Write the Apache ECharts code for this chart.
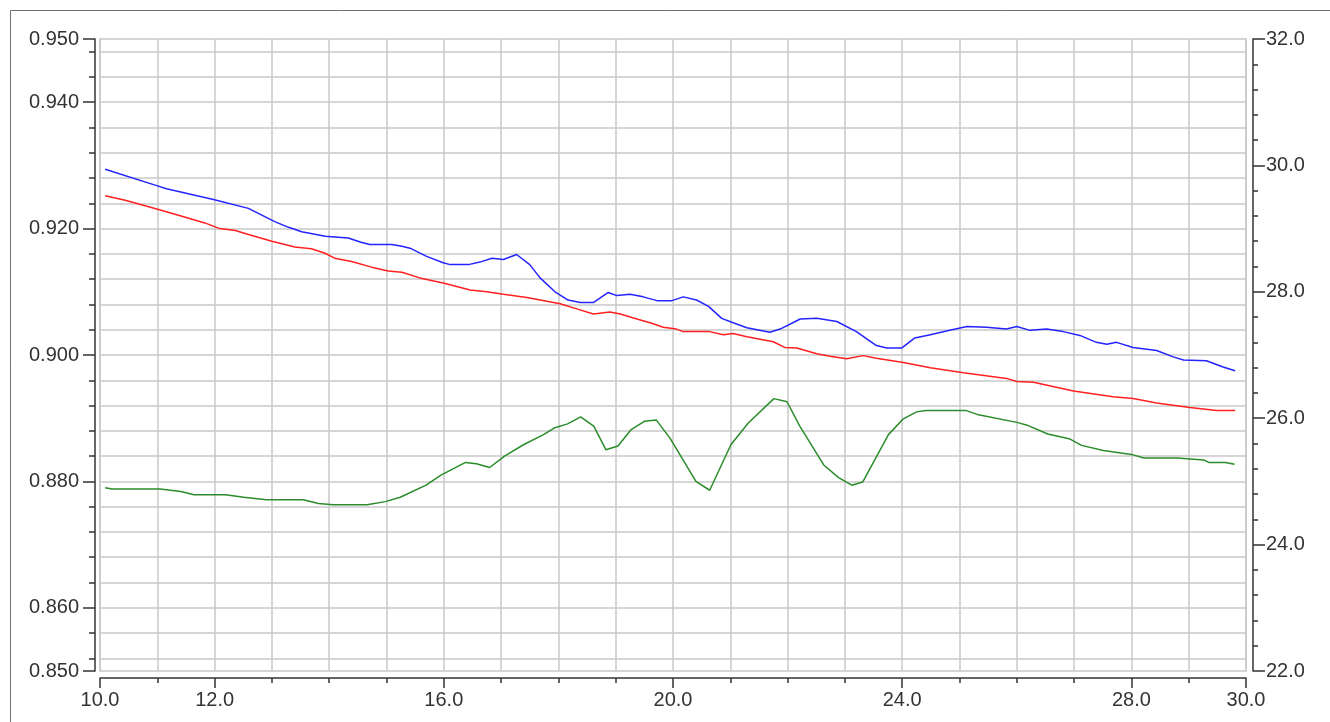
<!DOCTYPE html>
<html>
<head>
<meta charset="utf-8">
<script src="https://cdn.jsdelivr.net/npm/echarts@6/dist/echarts.min.js"></script>
<style>
html,body{margin:0;padding:0;background:#fff;}
#chart{width:1330px;height:722px;}
</style>
</head>
<body>
<div id="chart"></div>
<script>
// ---- data ----
var blueX = [10.09,10.99,11.16,11.98,12.59,13.05,13.29,13.52,13.93,14.33,14.57,14.71,15.09,15.27,15.41,15.70,15.99,16.11,16.43,16.63,16.84,17.04,17.27,17.50,17.68,17.94,18.17,18.38,18.61,18.87,19.02,19.25,19.48,19.72,19.98,20.18,20.41,20.62,20.85,21.05,21.29,21.69,21.87,22.22,22.51,22.86,23.20,23.55,23.73,23.99,24.22,24.49,24.83,25.13,25.47,25.82,26.00,26.23,26.52,26.81,27.10,27.39,27.57,27.74,28.03,28.44,28.73,28.91,29.31,29.60,29.81];
var blueY = [0.9294,0.9268,0.9263,0.9246,0.9232,0.9211,0.9202,0.9195,0.9188,0.9185,0.9178,0.9175,0.9175,0.9172,0.9169,0.9156,0.9146,0.9143,0.9143,0.9147,0.9153,0.9151,0.9159,0.9143,0.9122,0.9100,0.9087,0.9083,0.9083,0.9099,0.9094,0.9096,0.9092,0.9086,0.9086,0.9092,0.9087,0.9077,0.9058,0.9051,0.9043,0.9036,0.9041,0.9057,0.9058,0.9053,0.9037,0.9015,0.9011,0.9011,0.9027,0.9032,0.9039,0.9045,0.9044,0.9041,0.9045,0.9039,0.9041,0.9037,0.9031,0.9020,0.9017,0.9020,0.9012,0.9007,0.8997,0.8992,0.8991,0.8981,0.8975];

var redX = [10.09,10.44,10.99,11.37,11.83,12.09,12.36,12.65,13.00,13.40,13.69,13.93,14.10,14.39,14.74,15.03,15.27,15.58,15.99,16.46,16.75,17.04,17.45,17.80,18.03,18.32,18.61,18.90,19.08,19.37,19.60,19.83,20.06,20.18,20.64,20.88,21.05,21.29,21.75,21.95,22.16,22.51,22.74,23.03,23.32,23.55,24.02,24.49,25.07,25.82,26.00,26.29,26.99,27.68,28.03,28.44,29.02,29.49,29.81];
var redY = [0.9252,0.9245,0.9231,0.9221,0.9209,0.9200,0.9197,0.9189,0.9180,0.9171,0.9168,0.9161,0.9153,0.9148,0.9139,0.9133,0.9131,0.9122,0.9114,0.9103,0.9100,0.9096,0.9091,0.9085,0.9081,0.9073,0.9065,0.9068,0.9065,0.9057,0.9051,0.9044,0.9041,0.9037,0.9037,0.9032,0.9034,0.9029,0.9021,0.9012,0.9011,0.9002,0.8998,0.8994,0.8999,0.8995,0.8988,0.8980,0.8972,0.8963,0.8958,0.8957,0.8943,0.8934,0.8931,0.8924,0.8917,0.8912,0.8912];

var greenX = [10.09,10.21,11.05,11.41,11.64,12.19,12.51,12.90,13.55,13.81,14.07,14.66,14.98,15.24,15.69,15.95,16.38,16.57,16.80,17.06,17.39,17.74,17.94,18.16,18.39,18.62,18.83,19.04,19.27,19.50,19.71,19.95,20.40,20.64,21.01,21.31,21.76,21.99,22.21,22.63,22.89,23.12,23.31,23.76,24.02,24.25,24.41,25.12,25.31,26.02,26.18,26.54,26.93,27.13,27.51,28.03,28.22,28.80,29.26,29.35,29.64,29.80];
var greenY = [24.90,24.88,24.88,24.84,24.79,24.79,24.75,24.71,24.71,24.65,24.63,24.63,24.68,24.75,24.94,25.10,25.30,25.28,25.22,25.40,25.58,25.74,25.85,25.91,26.02,25.87,25.50,25.56,25.82,25.95,25.97,25.68,25.00,24.86,25.58,25.92,26.31,26.26,25.88,25.26,25.06,24.94,24.99,25.74,25.99,26.10,26.12,26.12,26.06,25.93,25.89,25.75,25.67,25.57,25.49,25.42,25.37,25.37,25.34,25.30,25.30,25.27];

// tick labels
var xLabelTicks = [10,12,16,20,24,28,30];
var leftLabelTicks = [0.85,0.86,0.88,0.90,0.92,0.94,0.95];
var leftGridTicks = [0.852,0.856,0.860,0.864,0.868,0.872,0.876,0.880,0.884,0.888,0.892,0.896,0.900,0.904,0.908,0.912,0.916,0.920,0.924,0.928,0.932,0.936,0.940,0.944,0.948];

function pairs(xs, ys){ return xs.map(function(x,i){ return [x, ys[i]]; }); }

var FONT = 'Liberation Sans';
var AX = '#333333';
var GRIDC = '#c8c8c8';

var chart = echarts.init(document.getElementById('chart'), null, {renderer:'canvas'});
chart.setOption({
  animation: false,
  backgroundColor: '#ffffff',
  graphic: [{
    type: 'rect', left: 8, top: 8, silent: true,
    shape: {x: 0, y: 0, width: 1340, height: 730},
    style: {fill: 'none', stroke: '#707070', lineWidth: 1}
  }],
  grid: {left: 100, right: 84, top: 39, bottom: 51, show: true, borderColor: GRIDC, borderWidth: 1.5, backgroundColor: 'transparent'},
  xAxis: [{
    type: 'value', position: 'bottom', min: 10, max: 30, offset: 7,
    axisLine: {show: true, lineStyle: {color: AX, width: 1.5}},
    axisTick: {show: true, length: 10, customValues: xLabelTicks, lineStyle: {color: AX, width: 1.5}},
    axisLabel: {show: true, customValues: xLabelTicks, margin: 12, color: '#333', fontFamily: FONT, fontSize: 20,
      formatter: function(v){ return Number(v).toFixed(1); }},
    splitLine: {show: false}
  }, {
    type: 'value', position: 'bottom', min: 10, max: 30, interval: 1, offset: 7,
    axisLine: {show: false},
    axisTick: {show: true, length: 5, lineStyle: {color: AX, width: 1.5}},
    axisLabel: {show: false},
    splitLine: {show: true, lineStyle: {color: GRIDC, width: 1.5}}
  }],
  yAxis: [{
    type: 'value', position: 'left', min: 0.85, max: 0.95, offset: 5,
    axisLine: {show: true, lineStyle: {color: AX, width: 1.5}},
    axisTick: {show: true, length: 6, customValues: leftGridTicks, lineStyle: {color: AX, width: 1.5}},
    axisLabel: {show: false},
    splitLine: {show: true, lineStyle: {color: GRIDC, width: 1.5}}
  }, {
    type: 'value', position: 'left', min: 0.85, max: 0.95, offset: 5,
    axisLine: {show: false},
    axisTick: {show: true, length: 12, customValues: leftLabelTicks, lineStyle: {color: AX, width: 1.5}},
    axisLabel: {show: true, customValues: leftLabelTicks, margin: 16, color: '#333', fontFamily: FONT, fontSize: 20,
      formatter: function(v){ return Number(v).toFixed(3); }},
    splitLine: {show: false}
  }, {
    type: 'value', position: 'right', min: 22, max: 32, interval: 2, offset: 7,
    axisLine: {show: true, lineStyle: {color: AX, width: 1.5}},
    axisTick: {show: true, length: 12, lineStyle: {color: AX, width: 1.5}},
    minorTick: {show: true, splitNumber: 5, length: 5, lineStyle: {color: AX, width: 1.5}},
    axisLabel: {show: true, margin: 13, color: '#333', fontFamily: FONT, fontSize: 20,
      formatter: function(v){ return Number(v).toFixed(1); }},
    splitLine: {show: false},
    minorSplitLine: {show: false}
  }],
  series: [{
    name: 'blue', type: 'line', xAxisIndex: 0, yAxisIndex: 0, showSymbol: false, symbol: 'none',
    lineStyle: {color: '#2424ff', width: 1.5}, data: pairs(blueX, blueY)
  }, {
    name: 'red', type: 'line', xAxisIndex: 0, yAxisIndex: 0, showSymbol: false, symbol: 'none',
    lineStyle: {color: '#ff2020', width: 1.5}, data: pairs(redX, redY)
  }, {
    name: 'green', type: 'line', xAxisIndex: 0, yAxisIndex: 2, showSymbol: false, symbol: 'none',
    lineStyle: {color: '#2a8c2a', width: 1.5}, data: pairs(greenX, greenY)
  }]
});
</script>
</body>
</html>
